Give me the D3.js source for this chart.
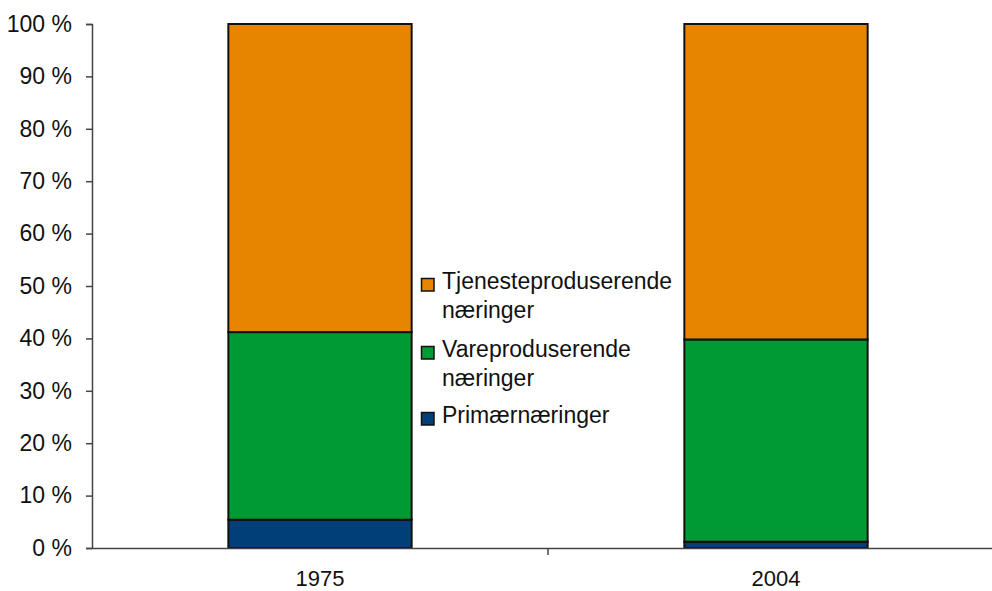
<!DOCTYPE html>
<html>
<head>
<meta charset="utf-8">
<script src="https://cdn.jsdelivr.net/npm/d3@7"></script>
<style>
  body { margin: 0; background: #fff; }
  svg { display: block; font-family: "Liberation Sans", Arial, sans-serif; }
</style>
</head>
<body>
<div id="chart"></div>
<script>
// data
var years = ["1975", "2004"];
var primaer = [5.4, 1.2];
var vare = [35.8, 38.6];
var tjeneste = [58.8, 60.2];
var yTicks = [0, 10, 20, 30, 40, 50, 60, 70, 80, 90, 100];

var keys = ["primaer", "vare", "tjeneste"];
var colors = {primaer: "#003F77", vare: "#009A35", tjeneste: "#E88500"};
var legendItems = [
    {key: "tjeneste", lines: ["Tjenesteproduserende", "næringer"]},
    {key: "vare", lines: ["Vareproduserende", "næringer"]},
    {key: "primaer", lines: ["Primærnæringer"]}
];

var dataset = years.map(function(y, i){
    return {year: y, primaer: primaer[i], vare: vare[i], tjeneste: tjeneste[i]};
});

const W = 992, H = 591;
const margin = {top: 24, right: -12, bottom: 43, left: 92};
const width = W - margin.left - margin.right,
      height = H - margin.top - margin.bottom;

const svg = d3.select("#chart")
    .append("svg")
    .attr("width", W)
    .attr("height", H)
    .append("g")
    .attr("transform", `translate(${margin.left},${margin.top})`);

const xScale = d3.scaleBand()
    .domain(years)
    .range([0, width]);

const yScale = d3.scaleLinear()
    .domain([0, 100])
    .range([height, 0]);

const barW = xScale.bandwidth() * 0.402;

const stackedData = d3.stack().keys(keys)(dataset);

// bars
svg.append("g")
    .selectAll("g")
    .data(stackedData)
    .join("g")
    .attr("fill", d => colors[d.key])
    .selectAll("rect")
    .data(d => d)
    .join("rect")
    .attr("x", d => xScale(d.data.year) + (xScale.bandwidth() - barW) / 2)
    .attr("y", d => yScale(d[1]))
    .attr("width", barW)
    .attr("height", d => yScale(d[0]) - yScale(d[1]))
    .attr("stroke", "#111")
    .attr("stroke-width", 2);

// y axis
const yAxis = svg.append("g")
    .call(d3.axisLeft(yScale).tickValues(yTicks).tickSize(6).tickSizeOuter(6)
        .tickFormat(d => d + " %"));
yAxis.select(".domain").attr("stroke", "#444").attr("stroke-width", 1.5);
yAxis.selectAll(".tick line").attr("stroke", "#444").attr("stroke-width", 1.5);
yAxis.selectAll(".tick text")
    .attr("x", -20)
    .attr("font-size", 23)
    .attr("fill", "#111")
    .attr("font-family", "Liberation Sans, Arial, sans-serif");

// x axis
const xAxis = svg.append("g")
    .attr("transform", `translate(0, ${height})`)
    .call(d3.axisBottom(xScale).tickSize(0).tickSizeOuter(0));
xAxis.select(".domain").attr("stroke", "#444").attr("stroke-width", 1.5);
xAxis.selectAll(".tick text")
    .attr("y", 38)
    .attr("dy", 0)
    .attr("font-size", 22)
    .attr("fill", "#111")
    .attr("font-family", "Liberation Sans, Arial, sans-serif");

// category separator tick
xAxis.append("line")
    .attr("x1", xScale.step())
    .attr("x2", xScale.step())
    .attr("y1", 0)
    .attr("y2", 7)
    .attr("stroke", "#444")
    .attr("stroke-width", 1.5);

// legend
const legend = svg.append("g")
    .attr("transform", `translate(${421 - margin.left}, ${278 - margin.top})`);

var lineH = 28.5;
var offsets = [0, 68, 134];
legendItems.forEach(function(item, i){
    var g = legend.append("g").attr("transform", `translate(0, ${offsets[i]})`);
    g.append("rect")
        .attr("x", 0.5)
        .attr("y", 0.5)
        .attr("width", 12.5)
        .attr("height", 12.5)
        .attr("fill", colors[item.key])
        .attr("stroke", "#111")
        .attr("stroke-width", 1.5);
    item.lines.forEach(function(t, j){
        g.append("text")
            .attr("x", 21)
            .attr("y", 11 + j * lineH)
            .attr("font-size", 23)
            .attr("fill", "#111")
            .text(t);
    });
});
</script>
</body>
</html>
